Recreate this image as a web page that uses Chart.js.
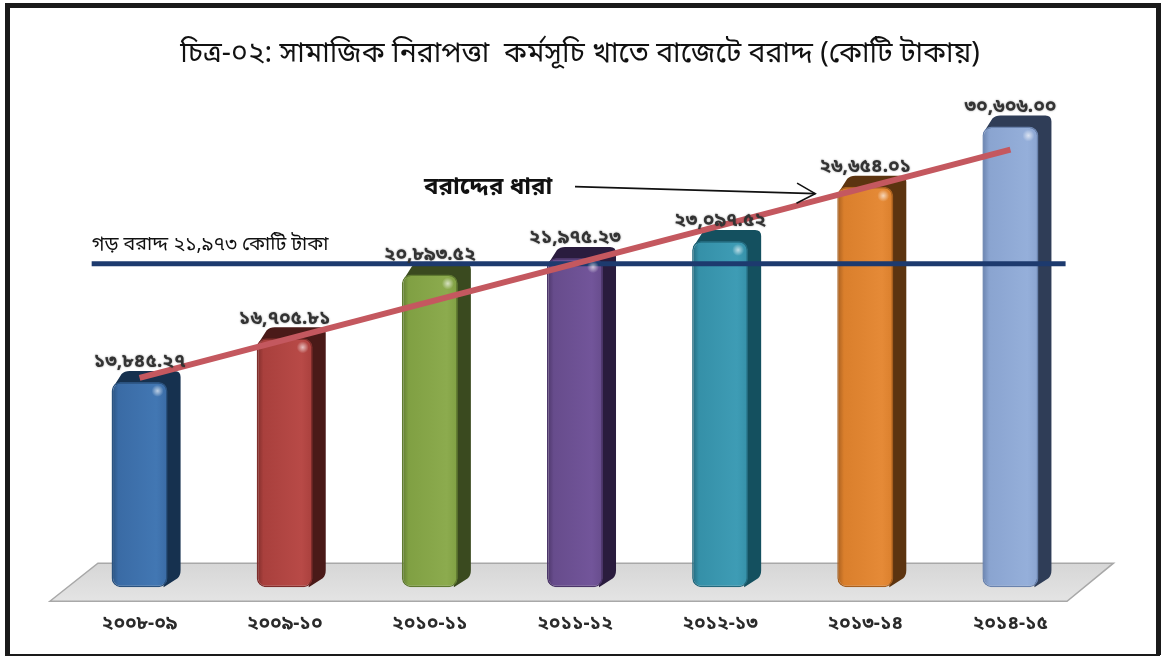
<!DOCTYPE html>
<html><head><meta charset="utf-8">
<style>html,body{margin:0;padding:0;background:#fff}canvas{display:block}</style>
<script src="https://cdn.jsdelivr.net/npm/chart.js@4"></script></head>
<body><canvas id="c" width="1163" height="657"></canvas>
<script>
const categories=['২০০৮-০৯','২০০৯-১০','২০১০-১১','২০১১-১২','২০১২-১৩','২০১৩-১৪','২০১৪-১৫'];
const allocation=[13845.27,16705.81,20893.52,21975.23,23097.52,26654.01,30606.00];
const valueLabels=['১৩,৮৪৫.২৭','১৬,৭০৫.৮১','২০,৮৯৩.৫২','২১,৯৭৫.২৩','২৩,০৯৭.৫২','২৬,৬৫৪.০১','৩০,৬০৬.০০'];
const frontColors=['#3a6ba5','#a9403d','#80a043','#674c8c','#3590a8','#da7f2c','#8aa4d0'];
const edgeColors=['#2a527f','#7e2c2a','#5f7a30','#4b3569','#23697d','#a85f1e','#6a83ae'];
const lightColors=['#4277b3','#b84a47','#8cab4e','#72559a','#3e9cb5','#e58a37','#95afda'];
const darkColors=['#16314f','#4a1a18','#3a4a1f','#2a1c3e','#14505f','#5c3410','#2f3d57'];
const trendValues=[14107,null,null,null,null,null,29094];
const averageLevel=21600;
const titleText='চিত্র-০২: সামাজিক নিরাপত্তা  কর্মসূচি খাতে বাজেটে বরাদ্দ (কোটি টাকায়)';
const avgText='গড় বরাদ্দ ২১,৯৭৩ কোটি টাকা';
const trendText='বরাদ্দের ধারা';
const BN='"Noto Sans","Noto Sans Bengali","Lohit Bengali","Liberation Sans",sans-serif';
const frame={
 id:'frame',
 afterLayout(ch){ch.titleBlock.left+=5;ch.titleBlock.right+=5;},
 beforeDatasetsDraw(ch){
  const {ctx,scales:{x2,y}}=ch;
  ctx.save();
  const yt=y.getPixelForValue(1946),yb=y.getPixelForValue(-552);
  ctx.beginPath();
  ctx.moveTo(x2.getPixelForValue(-0.618),yb);
  ctx.lineTo(x2.getPixelForValue(-0.287),yt);
  ctx.lineTo(x2.getPixelForValue(6.71),yt);
  ctx.lineTo(x2.getPixelForValue(6.39),yb);
  ctx.closePath();
  const g=ctx.createLinearGradient(0,yt,0,yb);g.addColorStop(0,'#d6d6d6');g.addColorStop(1,'#e4e4e4');
  ctx.fillStyle=g;ctx.fill();ctx.strokeStyle='#a8a8a8';ctx.lineWidth=1.5;ctx.stroke();
  ch.getDatasetMeta(0).data.forEach((b,i)=>{
   const r=b.x+b.width/2,l=b.x-b.width/2,t=b.y,bt=b.base,dx=13,dy=11;
   ctx.fillStyle=darkColors[i];
   ctx.beginPath();
   ctx.moveTo(l+3,t+3);ctx.lineTo(l+dx-3,t-dy+3);ctx.quadraticCurveTo(l+dx,t-dy,l+dx+5,t-dy);
   ctx.lineTo(r+dx-6,t-dy);ctx.quadraticCurveTo(r+dx,t-dy,r+dx,t-dy+6);
   ctx.lineTo(r+dx,bt-dy-6);ctx.quadraticCurveTo(r+dx,bt-dy-1,r+dx-3,bt-dy+2);
   ctx.lineTo(r-4,bt);ctx.lineTo(r-10,t+10);ctx.closePath();ctx.fill();
  });
  ctx.restore();
 },
 afterDatasetsDraw(ch){
  const {ctx}=ch;
  ctx.save();
  ch.getDatasetMeta(0).data.forEach(b=>{
   const cx=b.x+b.width/2-10,cy=b.y+9;
   const g=ctx.createRadialGradient(cx,cy,0,cx,cy,6);
   g.addColorStop(0,'rgba(255,255,255,0.65)');g.addColorStop(1,'rgba(255,255,255,0)');
   ctx.fillStyle=g;ctx.fillRect(cx-6,cy-6,12,12);
  });
  ctx.restore();
 },
 afterDraw(ch){
  const {ctx,width,height}=ch;
  ctx.save();
  ctx.fillStyle='#1a1a1a';
  ctx.fillRect(5,3,width-8,5);
  ctx.fillRect(5,3,5,height-5);
  ctx.fillRect(width-7,3,5,height-5);
  ctx.fillRect(5,height-3,width-8,2);
  ctx.restore();
 }
};
const arrow={
 id:'arrow',
 afterDatasetsDraw(ch){
  const {ctx}=ch;
  const [p0,p1]=ch.getDatasetMeta(3).data;
  const a=Math.atan2(p1.y-p0.y,p1.x-p0.x),L=21;
  ctx.save();ctx.strokeStyle='#111';ctx.lineWidth=1.6;
  ctx.beginPath();
  ctx.moveTo(p1.x-L*Math.cos(a-0.5),p1.y-L*Math.sin(a-0.5));
  ctx.lineTo(p1.x,p1.y);
  ctx.lineTo(p1.x-L*Math.cos(a+0.5),p1.y-L*Math.sin(a+0.5));
  ctx.stroke();
  const y=ch.scales.y,x2=ch.scales.x2;
  ctx.fillStyle='#111';ctx.textBaseline='middle';
  ctx.font='19.7px '+BN;ctx.textAlign='left';
  ctx.fillText(avgText,x2.getPixelForValue(-0.33),y.getPixelForValue(22865));
  ctx.font='bold 24px '+BN;
  ctx.fillText(trendText,x2.getPixelForValue(1.96),y.getPixelForValue(26600));
  ctx.font='bold 19px '+BN;ctx.textAlign='center';ctx.fillStyle='#333';
  ctx.shadowColor='rgba(0,0,0,0.45)';ctx.shadowBlur=2;
  ch.getDatasetMeta(0).data.forEach((b,i)=>ctx.fillText(valueLabels[i],b.x,b.y-20));
  ctx.restore();
 }
};
new Chart(document.getElementById('c'),{
 type:'bar',
 data:{labels:categories,datasets:[
  {type:'bar',grouped:false,clip:false,base:370,order:3,data:allocation,categoryPercentage:1,barPercentage:0.386,borderRadius:9,borderSkipped:false,
   backgroundColor(c){
    const ch=c.chart,i=c.dataIndex;
    if(!ch.chartArea||!ch.scales.x) return frontColors[i];
    const cx=ch.scales.x.getPixelForValue(i),g=ch.ctx.createLinearGradient(cx-28,0,cx+28,0);
    g.addColorStop(0,edgeColors[i]);g.addColorStop(0.12,frontColors[i]);g.addColorStop(0.8,lightColors[i]);g.addColorStop(1,frontColors[i]);
    return g;
   },borderColor(c){return edgeColors[c.dataIndex]},borderWidth:1.5},
  {type:'line',order:1,data:[{x:-0.33,y:averageLevel},{x:6.38,y:averageLevel}],xAxisID:'x2',borderColor:'#1d3a6e',borderWidth:5,pointRadius:0,tension:0},
  {type:'line',order:0,data:trendValues,spanGaps:true,borderColor:'#c4585f',borderWidth:6,pointRadius:0,tension:0},
  {type:'line',order:0,data:[{x:3.0,y:26660},{x:4.655,y:26200}],xAxisID:'x2',borderColor:'#111',borderWidth:1.6,pointRadius:0,tension:0}
 ]},
 options:{
  responsive:false,animation:false,
  layout:{padding:{left:67,right:80,top:0,bottom:3}},
  plugins:{legend:{display:false},tooltip:{enabled:false},
   title:{display:true,text:titleText,color:'#111',font:{family:BN,size:28.4,weight:'normal'},padding:{top:37,bottom:19}}},
  scales:{
   x:{grid:{display:false},border:{display:false},ticks:{color:'#2b2b2b',font:{family:BN,size:19,weight:'bold'},padding:19,maxRotation:0}},
   x2:{type:'linear',display:false,offset:false,min:-0.5,max:6.5},
   y:{display:false,min:500,max:33000}
  }
 },
 plugins:[frame,arrow]
});
</script></body></html>
